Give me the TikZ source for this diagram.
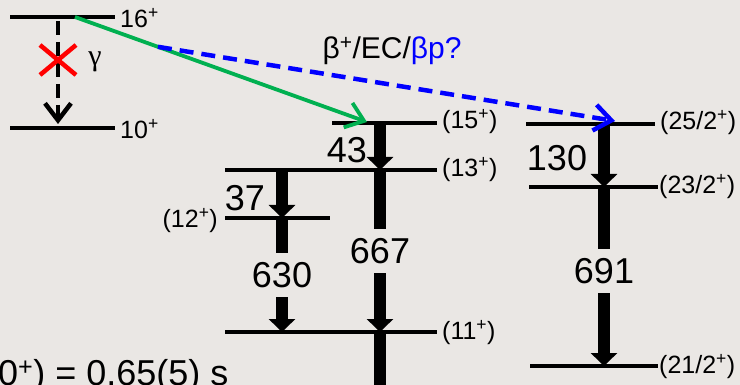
\documentclass[tikz,border=0pt]{standalone}
\usepackage{fontspec}
\setmainfont{Liberation Sans}
\newfontfamily\gamfont{Liberation Serif}
\usetikzlibrary{arrows.meta,calc}
\definecolor{bgc}{RGB}{234,231,228}
\definecolor{grn}{RGB}{0,176,80}
\definecolor{blu}{RGB}{0,0,255}
\definecolor{redx}{RGB}{255,0,0}
\begin{document}
\begin{tikzpicture}[x=1pt,y=-1pt,
  lev/.style={line width=4pt},
  lvl/.style={font=\fontsize{25}{28}\selectfont, inner sep=0pt, anchor=west},
  gam/.style={line width=12pt, -{Triangle[width=26pt,length=13pt]}},
  shaft/.style={line width=12pt},
  en/.style={font=\fontsize{36}{40}\selectfont, inner sep=0pt},
  engap/.style={en, fill=bgc, inner ysep=9pt, inner xsep=1pt},
  vtip/.style={-{Straight Barb[width=26pt,length=17pt]}},
]
\fill[bgc] (0,0) rectangle (740,385);
\useasboundingbox (0,0) rectangle (740,385);

% ---- level coordinates
\coordinate (a16L) at (10,17);  \coordinate (a16R) at (115,17);
\coordinate (a10L) at (10,128); \coordinate (a10R) at (115,128);
\coordinate (b15L) at (332,123); \coordinate (b15R) at (437,123);
\coordinate (b13L) at (225,170); \coordinate (b13R) at (437,170);
\coordinate (b12L) at (225,218); \coordinate (b12R) at (330,218);
\coordinate (b11L) at (225,332); \coordinate (b11R) at (437,332);
\coordinate (c25L) at (526,124); \coordinate (c25R) at (655,124);
\coordinate (c23L) at (529,187); \coordinate (c23R) at (658,187);
\coordinate (c21L) at (530,366); \coordinate (c21R) at (658,366);

% ---- levels
\draw[lev] (a16L) -- (a16R);
\draw[lev] (a10L) -- (a10R);
\draw[lev] (b15L) -- (b15R);
\draw[lev] (b13L) -- (b13R);
\draw[lev] (b12L) -- (b12R);
\draw[lev] (b11L) -- (b11R);
\draw[lev] (c25L) -- (c25R);
\draw[lev] (c23L) -- (c23R);
\draw[lev] (c21L) -- (c21R);

% ---- level labels
\node[lvl] (n16) at (120,18) {16\textsuperscript{+}};
\node[lvl] (n10) at (120,129) {10\textsuperscript{+}};
\node[lvl] (n15) at (442,122) {(15\textsuperscript{+})};
\node[lvl] (n13) at (442,170) {(13\textsuperscript{+})};
\node[lvl, anchor=east] (n12) at (218,221) {(12\textsuperscript{+})};
\node[lvl] (n11) at (442,333) {(11\textsuperscript{+})};
\node[lvl] (n25) at (660,123) {(25/2\textsuperscript{+})};
\node[lvl] (n23) at (659,187) {(23/2\textsuperscript{+})};
\node[lvl] (n21) at (659,367) {(21/2\textsuperscript{+})};

% ---- gamma transitions
\coordinate (m15) at (380,123); \coordinate (m13) at (380,170);
\coordinate (m11) at (380,332); \coordinate (mend) at (380,395);
\coordinate (l13) at (282,170); \coordinate (l12) at (282,218);
\coordinate (l11) at (282,332);
\coordinate (r25) at (604,124); \coordinate (r23) at (604,187);
\coordinate (r21) at (604,366);

\draw[gam] (m15) -- (m13);
\draw[gam] (m13) -- node[engap] (e667) {667} (m11);
\draw[shaft] (m11) -- (mend);
\draw[gam] (l13) -- (l12);
\draw[gam] (l12) -- node[engap] (e630) {630} (l11);
\draw[gam] (r25) -- (r23);
\draw[gam] (r23) -- node[engap, pos=0.47] (e691) {691} (r21);

\node[en] (e43) at (347,150) {43};
\node[en] (e37) at (245,198) {37};
\node[en] (e130) at (557,158) {130};

% ---- forbidden gamma 16+ -> 10+
\coordinate (g16) at (58,21);
\coordinate (g10) at (58,124);
\draw[line width=4.5pt, dash pattern=on 14pt off 7pt, vtip] (g16) -- (g10);
\draw[redx, line width=4.5pt] (40,45) -- (76,75);
\draw[redx, line width=4.5pt] (76,45) -- (40,75);
\node[font=\gamfont\fontsize{30}{32}\selectfont, inner sep=0pt] (gl) at (95,62) {γ};

% ---- beta decays
\coordinate (src) at (75,17);
\coordinate (tipG) at (367,122);
\coordinate (br) at ($(src)!0.284!(tipG)$);
\coordinate (tipB) at (615,121);
\draw[grn, line width=3.8pt, vtip] (src) -- (tipG);
\draw[blu, line width=4.5pt, dash pattern=on 14pt off 8pt, vtip] (br) -- (tipB);
\node[font=\fontsize{30}{34}\selectfont, inner sep=0pt] (bl) at (392,51)
  {β\textsuperscript{+}/EC/\textcolor{blu}{βp?}};

% ---- half-life text (cut at the border, as in the reference)
\node[font=\fontsize{36}{40}\selectfont, inner sep=0pt, anchor=base west] (hl)
  at (-2,385) {0\textsuperscript{+}) = 0.65(5) s};
\end{tikzpicture}
\end{document}
